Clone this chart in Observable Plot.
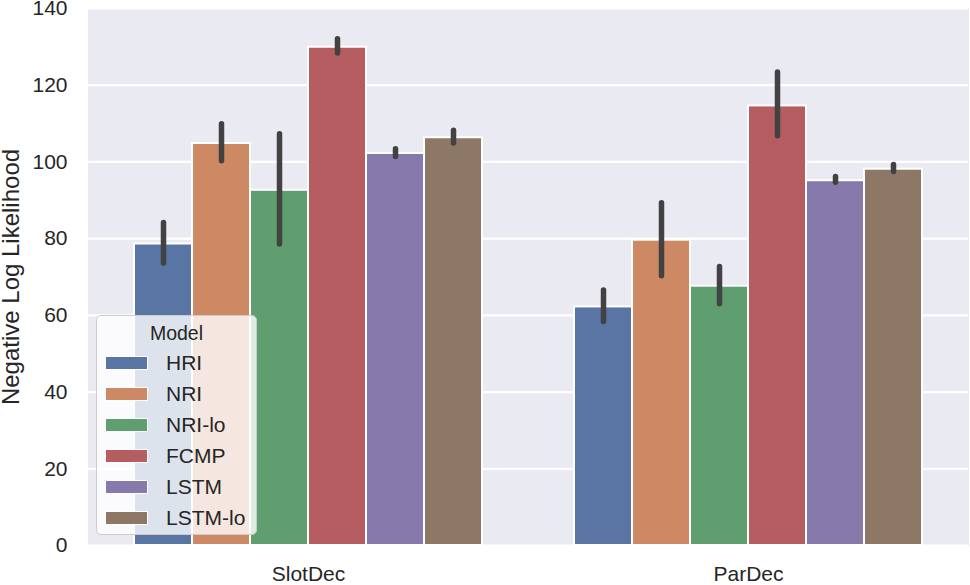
<!DOCTYPE html>
<html>
<head>
<meta charset="utf-8">
<script src="https://cdn.jsdelivr.net/npm/d3@7"></script>
<script src="https://cdn.jsdelivr.net/npm/@observablehq/plot@0.6"></script>
<style>
  html, body { margin: 0; padding: 0; background: white; }
  #wrap { position: relative; width: 970px; height: 585px; font-family: Arial, "Liberation Sans", sans-serif; color: #262626; }
  #wrap svg g[aria-label="y-axis label"] text { font-size: 24px; }
  #legend {
    position: absolute; left: 96px; top: 315px; width: 161px; height: 220px;
    background: rgba(255,255,255,0.8); border: 1px solid #cccccc; border-radius: 5px;
    box-sizing: border-box;
  }
  #legend .title { text-align: center; font-size: 19.5px; margin-top: 6px; height: 25px; line-height: 22px; }
  #legend .row { display: flex; align-items: center; height: 31px; }
  #legend .sw { width: 43px; height: 14px; margin-left: 8px; margin-right: 18px; border: 1px solid white; box-sizing: border-box; }
  #legend .lab { font-size: 21px; line-height: 21px; }
</style>
</head>
<body>
<div id="wrap"></div>
<script>
const categories = ["SlotDec", "ParDec"];
const models = ["HRI", "NRI", "NRI-lo", "FCMP", "LSTM", "LSTM-lo"];
const colors = ["#5875A4", "#CC8963", "#5F9E6E", "#B55D60", "#857AAB", "#8D7866"];
const slotDecMean = [78.6, 104.8, 92.6, 129.9, 102.2, 106.3];
const slotDecLow  = [73.5, 100.2, 78.5, 128.3, 101.3, 104.8];
const slotDecHigh = [84.1, 109.8, 107.2, 132.0, 103.3, 108.1];
const parDecMean  = [62.2, 79.6, 67.6, 114.6, 95.1, 98.1];
const parDecLow   = [58.3, 70.2, 62.9, 106.7, 94.6, 97.4];
const parDecHigh  = [66.5, 89.2, 72.6, 123.3, 96.1, 99.2];
const yTicks = [0, 20, 40, 60, 80, 100, 120, 140];

const rows = [];
models.forEach((m, i) => {
  rows.push({category: "SlotDec", model: m, value: slotDecMean[i], low: slotDecLow[i], high: slotDecHigh[i]});
  rows.push({category: "ParDec", model: m, value: parDecMean[i], low: parDecLow[i], high: parDecHigh[i]});
});

const chart = Plot.plot({
  width: 970,
  height: 585,
  marginLeft: 87,
  marginRight: 2,
  marginTop: 8,
  marginBottom: 40,
  style: {fontFamily: "Arial, 'Liberation Sans', sans-serif", fontSize: "21px", color: "#262626", background: "white", overflow: "visible"},
  fx: {domain: categories, padding: 0, label: null, axis: "bottom", tickSize: 0, tickPadding: 21},
  x: {domain: models, paddingInner: 0, paddingOuter: 0.75, axis: null},
  y: {domain: [0, 140], ticks: yTicks, label: "Negative Log Likelihood", labelAnchor: "center", labelArrow: "none", labelOffset: 87, tickSize: 0, tickPadding: 21},
  color: {domain: models, range: colors},
  marks: [
    Plot.frame({fill: "#EAEAF2", stroke: "#EAEAF2", strokeWidth: 1}),
    Plot.gridY(yTicks, {stroke: "white", strokeOpacity: 1, strokeWidth: 2.2}),
    Plot.barY(rows, {fx: "category", x: "model", y: "value", fill: "model", stroke: "white", strokeWidth: 2}),
    Plot.ruleX(rows, {fx: "category", x: "model", y1: "low", y2: "high", stroke: "#424242", strokeWidth: 5.5, strokeLinecap: "round"})
  ]
});

const wrap = document.getElementById("wrap");
wrap.appendChild(chart);

const legend = document.createElement("div");
legend.id = "legend";
const title = document.createElement("div");
title.className = "title";
title.textContent = "Model";
legend.appendChild(title);
models.forEach((m, i) => {
  const row = document.createElement("div");
  row.className = "row";
  const sw = document.createElement("div");
  sw.className = "sw";
  sw.style.background = colors[i];
  const lab = document.createElement("div");
  lab.className = "lab";
  lab.textContent = m;
  row.appendChild(sw);
  row.appendChild(lab);
  legend.appendChild(row);
});
wrap.appendChild(legend);
</script>
</body>
</html>
